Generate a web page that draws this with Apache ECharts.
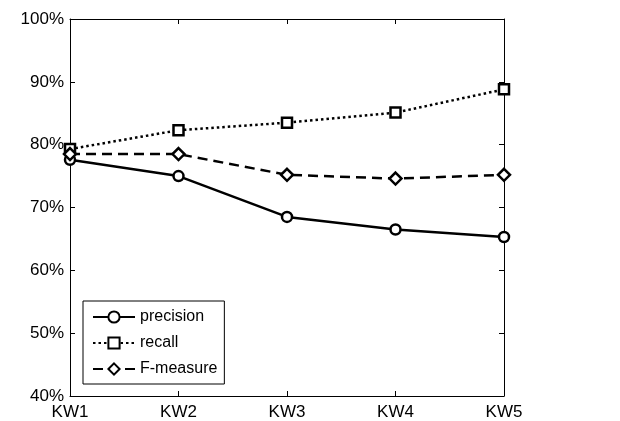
<!DOCTYPE html>
<html><head><meta charset="utf-8">
<script src="https://cdn.jsdelivr.net/npm/echarts@6/dist/echarts.min.js"></script>
<style>html,body{margin:0;padding:0;background:#fff}#c{width:620px;height:421px}</style>
</head><body><div id="c"></div>
<script>
const categories = ['KW1','KW2','KW3','KW4','KW5'];
const precision = [77.6, 75.0, 68.5, 66.5, 65.3];
const recall = [79.3, 82.3, 83.5, 85.1, 88.8];
const fmeasure = [78.5, 78.5, 75.2, 74.6, 75.2];
const yTicks = {min: 40, max: 100, interval: 10};

const font = 'Liberation Sans, Arial, sans-serif';
const chart = echarts.init(document.getElementById('c'), null, {renderer: 'canvas'});
function mkSeries(name, data, symbol, type, size) {
  return {
    name, type: 'line', data, symbol, symbolSize: size,
    lineStyle: {color: '#000', width: 2.5, type},
    itemStyle: {color: '#fff', borderColor: '#000', borderWidth: 2.5},
    emphasis: {disabled: true}, animation: false, z: 3
  };
}
chart.setOption({
  animation: false,
  backgroundColor: '#fff',
  grid: {left: 70, right: 116, top: 19, bottom: 25, containLabel: false},
  legend: {
    orient: 'vertical', left: 83, top: 301,
    itemWidth: 42, itemHeight: 14, itemGap: 10,
    padding: [8, 7, 7, 9],
    backgroundColor: '#fff', borderColor: '#000', borderWidth: 1,
    textStyle: {fontFamily: font, fontSize: 16, color: '#000'},
    data: ['precision','recall','F-measure']
  },
  xAxis: [{
    type: 'category', data: categories, boundaryGap: false, position: 'bottom',
    axisLine: {lineStyle: {color: '#000', width: 1}},
    axisTick: {inside: true, length: 5, alignWithLabel: true, lineStyle: {color: '#000'}},
    axisLabel: {color: '#000', fontFamily: font, fontSize: 17, margin: 8},
    splitLine: {show: false}
  }, {
    type: 'category', data: categories, boundaryGap: false, position: 'top',
    axisLine: {lineStyle: {color: '#000', width: 1}},
    axisTick: {inside: true, length: 5, lineStyle: {color: '#000'}},
    axisLabel: {show: false}, splitLine: {show: false}
  }],
  yAxis: [{
    type: 'value', min: yTicks.min, max: yTicks.max, interval: yTicks.interval, position: 'left',
    axisLine: {show: true, lineStyle: {color: '#000', width: 1}},
    axisTick: {show: true, inside: true, length: 5, lineStyle: {color: '#000'}},
    axisLabel: {color: '#000', fontFamily: font, fontSize: 17, margin: 6, formatter: '{value}%'},
    splitLine: {show: false}
  }, {
    type: 'value', min: yTicks.min, max: yTicks.max, interval: yTicks.interval, position: 'right',
    axisLine: {show: true, lineStyle: {color: '#000', width: 1}},
    axisTick: {show: true, inside: true, length: 5, lineStyle: {color: '#000'}},
    axisLabel: {show: false}, splitLine: {show: false}
  }],
  series: [
    mkSeries('precision', precision, 'circle', 'solid', 10),
    mkSeries('recall', recall, 'rect', [2.5, 3], 10),
    mkSeries('F-measure', fmeasure, 'diamond', [10, 6], 12)
  ]
});
</script></body></html>
